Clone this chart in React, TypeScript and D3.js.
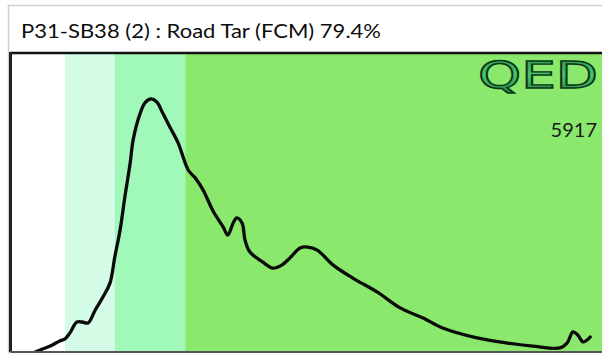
import * as d3 from 'd3'

const TITLE = 'P31-SB38 (2) : Road Tar (FCM) 79.4%'
const PEAK_LABEL = '5917'
const LOGO = 'QED'

// retention (0-100 relative) vs response (0-100 relative)
const retention = [3.9, 5.1, 6.8, 8.4, 9.3, 10.1, 11.3, 12.2, 13.2, 14.4, 15.7, 16.9, 17.7, 18.6, 19.4, 20.3, 20.8, 22.0, 22.8, 23.8, 24.8, 25.8, 27.0, 28.4, 30.1, 31.3, 32.6, 34.3, 36.0, 36.8, 37.7, 38.3, 39.2, 39.7, 40.5, 42.7, 44.4, 45.9, 47.3, 49.0, 50.3, 51.9, 54.6, 57.9, 62.0, 65.9, 69.8, 73.1, 78.9, 84.0, 88.3, 92.9, 94.1, 95.1, 95.9, 96.8, 98.0]
const response = [0, 1.0, 2.3, 4.0, 4.7, 6.6, 10.3, 10.3, 10.0, 14.3, 18.6, 23.3, 31.9, 40.9, 51.8, 63.1, 70.8, 79.7, 83.1, 84.4, 83.4, 79.7, 75.1, 69.8, 60.8, 58.1, 54.2, 47.2, 41.9, 39.2, 43.2, 44.9, 43.2, 37.5, 33.6, 30.2, 28.2, 29.2, 31.6, 34.9, 35.2, 34.2, 29.2, 24.9, 20.3, 15.0, 11.6, 8.3, 5.0, 3.3, 2.3, 1.7, 3.3, 7.0, 6.0, 3.7, 5.3]

// band boundaries on the retention axis
const bandEdges = [0, 9.3, 17.7, 29.6, 100]
const BAND_FILLS = ['#ffffff', '#d5fce6', '#a0f9b8', '#8ae96c']

export default function App() {
  const W = 602
  const H = 354
  const plot = { left: 10, right: 602, top: 52, bottom: 353 }

  const x = d3.scaleLinear().domain([0, 100]).range([plot.left, plot.right])
  const y = d3.scaleLinear().domain([0, 100]).range([plot.bottom, plot.top])

  const pts = retention.map((r, i) => [r, response[i]] as [number, number])
  const line = d3.line<[number, number]>()
    .x(d => x(d[0]))
    .y(d => y(d[1]))
    .curve(d3.curveCatmullRom.alpha(0.5))

  const bands = d3.pairs(bandEdges)

  return (
    <svg width={W} height={H} style={{ position: 'absolute', left: 0, top: 0 }}>
      <defs>
        <linearGradient id="qedFill" x1="0" y1="0" x2="0" y2="1">
          <stop offset="0%" stopColor="#23903f" />
          <stop offset="50%" stopColor="#4cc56f" />
          <stop offset="100%" stopColor="#177a31" />
        </linearGradient>
        <clipPath id="plotClip">
          <rect x={plot.left} y={plot.top} width={plot.right - plot.left} height={plot.bottom - plot.top} />
        </clipPath>
      </defs>
      <rect x={0} y={0} width={W} height={H} fill="#fff" />
      <rect x={8.5} y={5.5} width={W} height={H} fill="#fff" stroke="#cfcfcf" strokeWidth={1.5} />
      <text x={21} y={37.5} fontFamily="Lato, 'Open Sans', sans-serif" fontSize={19.5} fill="#0d0d0d"
        textLength={360} lengthAdjust="spacingAndGlyphs">{TITLE}</text>

      {bands.map(([a, b], i) => (
        <rect key={i} x={x(a)} y={plot.top} width={x(b) - x(a)} height={plot.bottom - plot.top} fill={BAND_FILLS[i]} />
      ))}

      <text x={598} y={88} textAnchor="end" fontFamily="'DejaVu Sans', sans-serif" fontSize={38}
        fill="url(#qedFill)" stroke="#0b3417" strokeWidth={1.4} textLength={120} lengthAdjust="spacingAndGlyphs">{LOGO}</text>
      <text x={597} y={137} textAnchor="end" fontFamily="Lato, 'Open Sans', sans-serif" fontSize={20} fill="#1a1a1a">{PEAK_LABEL}</text>

      <g clipPath="url(#plotClip)">
        <path d={line(pts) ?? ''} fill="none" stroke="#0a0a0a" strokeWidth={3.3} strokeLinejoin="round" strokeLinecap="round" />
      </g>

      <line x1={plot.left} x2={W} y1={53} y2={53} stroke="#111" strokeWidth={2.5} />
      <line x1={10.5} x2={10.5} y1={52} y2={352} stroke="#222" strokeWidth={3} />
      <line x1={plot.left} x2={W} y1={352} y2={352} stroke="#555" strokeWidth={2} />
    </svg>
  )
}
